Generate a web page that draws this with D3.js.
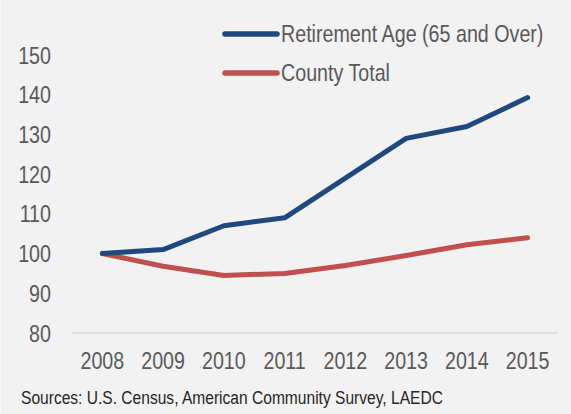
<!DOCTYPE html>
<html>
<head>
<meta charset="utf-8">
<script src="https://cdn.jsdelivr.net/npm/d3@7"></script>
<style>
  body { margin: 0; background: #fff; }
  svg text { font-family: "Liberation Sans", Arial, sans-serif; }
</style>
</head>
<body>
<div id="chart"></div>
<script>
// data (index, 2008 = 100)
var years = ['2008', '2009', '2010', '2011', '2012', '2013', '2014', '2015']
var retirement = [100, 101, 107, 109, 119, 129, 132, 139.3]
var countyTotal = [100, 96.8, 94.5, 95, 97, 99.5, 102.2, 104]
var yTicks = [80, 90, 100, 110, 120, 130, 140, 150]
var seriesNames = ['Retirement Age (65 and Over)', 'County Total']
var seriesColors = ['#1f497d', '#c0504d']

var width = 571
    height = 414
    narrow = 0.82   // no narrow font installed, so squeeze the text

var svg = d3.select('#chart')
  .append('svg')
    .attr('width', width)
    .attr('height', height)

svg.append('rect')
  .attr('width', width)
  .attr('height', height)
  .attr('fill', '#f2f2f2')

svg.append('line')
  .attr('x1', 0.5).attr('x2', 0.5)
  .attr('y1', 0).attr('y2', height)
  .attr('stroke', '#fbfbfb')

// place a condensed text at (px, py)
function squeeze(px, py) {
  return 'translate(' + px + ',' + py + ') scale(' + narrow + ',1)'
}

// scales
var x = d3.scaleBand()
  .domain(years)
  .range([72, 558])

var y = d3.scaleLinear()
  .domain([80, 150])
  .range([333, 55])

// baseline at 80
svg.append('line')
  .attr('x1', x.range()[0]).attr('x2', x.range()[1])
  .attr('y1', y(80)).attr('y2', y(80))
  .attr('stroke', '#d9d9d9')
  .attr('stroke-width', 1.5)

// y labels
svg.append('g')
  .selectAll('text')
  .data(yTicks)
  .enter()
  .append('text')
    .attr('transform', function(d) { return squeeze(51, y(d) + 8.5) })
    .attr('text-anchor', 'end')
    .attr('font-size', 24)
    .attr('fill', '#595959')
    .text(function(d) { return d })

// x labels
svg.append('g')
  .selectAll('text')
  .data(years)
  .enter()
  .append('text')
    .attr('transform', function(d) { return squeeze(x(d) + x.bandwidth() / 2, 369) })
    .attr('text-anchor', 'middle')
    .attr('font-size', 24)
    .attr('fill', '#595959')
    .text(function(d) { return d })

var line = d3.line()
  .x(function(d, i) { return x(years[i]) + x.bandwidth() / 2 })
  .y(function(d) { return y(d) })

// draw red first so blue sits on top
var series = [countyTotal, retirement]
var colors = [seriesColors[1], seriesColors[0]]
svg.append('g')
  .selectAll('path')
  .data(series)
  .enter()
  .append('path')
    .attr('d', line)
    .attr('fill', 'none')
    .attr('stroke', function(d, i) { return colors[i] })
    .attr('stroke-width', 5)
    .attr('stroke-linecap', 'round')
    .attr('stroke-linejoin', 'round')

// legend
var legend = svg.append('g')
  .selectAll('g')
  .data(seriesNames)
  .enter()
  .append('g')
    .attr('transform', function(d, i) { return 'translate(0,' + (34 + i * 39) + ')' })

legend.append('line')
  .attr('x1', 225).attr('x2', 277)
  .attr('stroke', function(d, i) { return seriesColors[i] })
  .attr('stroke-width', 5.5)
  .attr('stroke-linecap', 'round')

legend.append('text')
  .attr('transform', squeeze(281, 7.5))
  .attr('font-size', 24)
  .attr('fill', '#595959')
  .text(function(d) { return d })

// source note
svg.append('text')
  .attr('transform', squeeze(21, 404))
  .attr('font-size', 19)
  .attr('fill', '#262626')
  .text('Sources: U.S. Census, American Community Survey, LAEDC')
</script>
</body>
</html>
